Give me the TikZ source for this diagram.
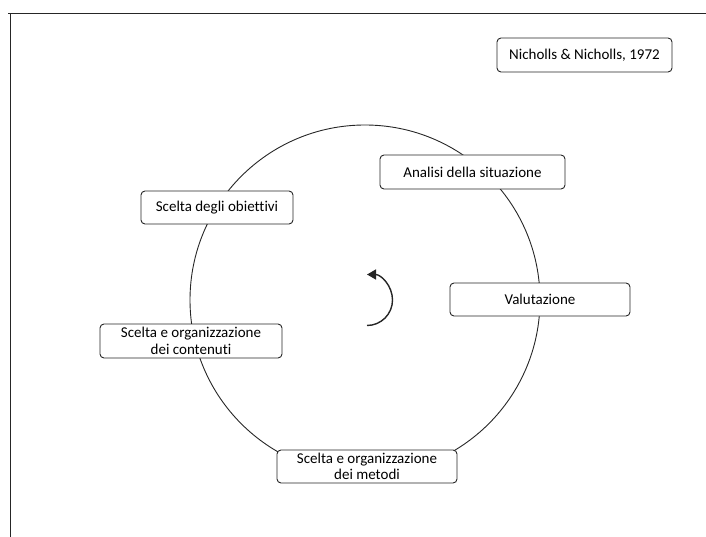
\documentclass[tikz,border=0pt]{standalone}
\usepackage{fontspec}
\setmainfont{Carlito}[RawFeature={-liga}]
\usetikzlibrary{arrows.meta,calc}
\definecolor{ink}{HTML}{262626}
\begin{document}
\begin{tikzpicture}[x=1pt,y=1pt,
  stage/.style={draw=ink, line width=0.9pt, fill=white, rounded corners=4pt,
    align=center, inner sep=0pt, font=\fontsize{15}{16.5}\selectfont},
  frameline/.style={draw=ink, line width=1.8pt}]
  \useasboundingbox (0,0) rectangle (706,-537);
  % outer frame (top and left edges)
  \draw[frameline] (8,-13.5) -- (706,-13.5);
  \draw[frameline] (10.5,-13.5) -- (10.5,-537);
  % cycle
  \coordinate (o) at (365,-300);
  \draw[ink, line width=0.9pt] (o) circle[radius=175];
  % rotation arrow
  \coordinate (r) at (367,-300);
  \draw[ink, line width=1.4pt, -{Triangle[length=9pt,width=10pt]}]
    ($(r)+(0,-25.5)$) arc[start angle=-90, end angle=90, radius=25.5];
  % stages
  \node[stage, minimum width=175pt, minimum height=34pt] (nich) at (584.5,-55) {Nicholls \& Nicholls, 1972};
  \node[stage, minimum width=185pt, minimum height=34pt] (anal) at (472.5,-172) {Analisi della situazione};
  \node[stage, minimum width=152pt, minimum height=33pt] (obj) at (217,-207.5) {Scelta degli obiettivi};
  \node[stage, minimum width=180pt, minimum height=33pt] (val) at (540,-299.5) {Valutazione};
  \node[stage, minimum width=182pt, minimum height=34pt] (cont) at (191,-341) {Scelta e organizzazione\\dei contenuti};
  \node[stage, minimum width=180pt, minimum height=33pt] (met) at (367,-466.5) {Scelta e organizzazione\\dei metodi};
\end{tikzpicture}
\end{document}
